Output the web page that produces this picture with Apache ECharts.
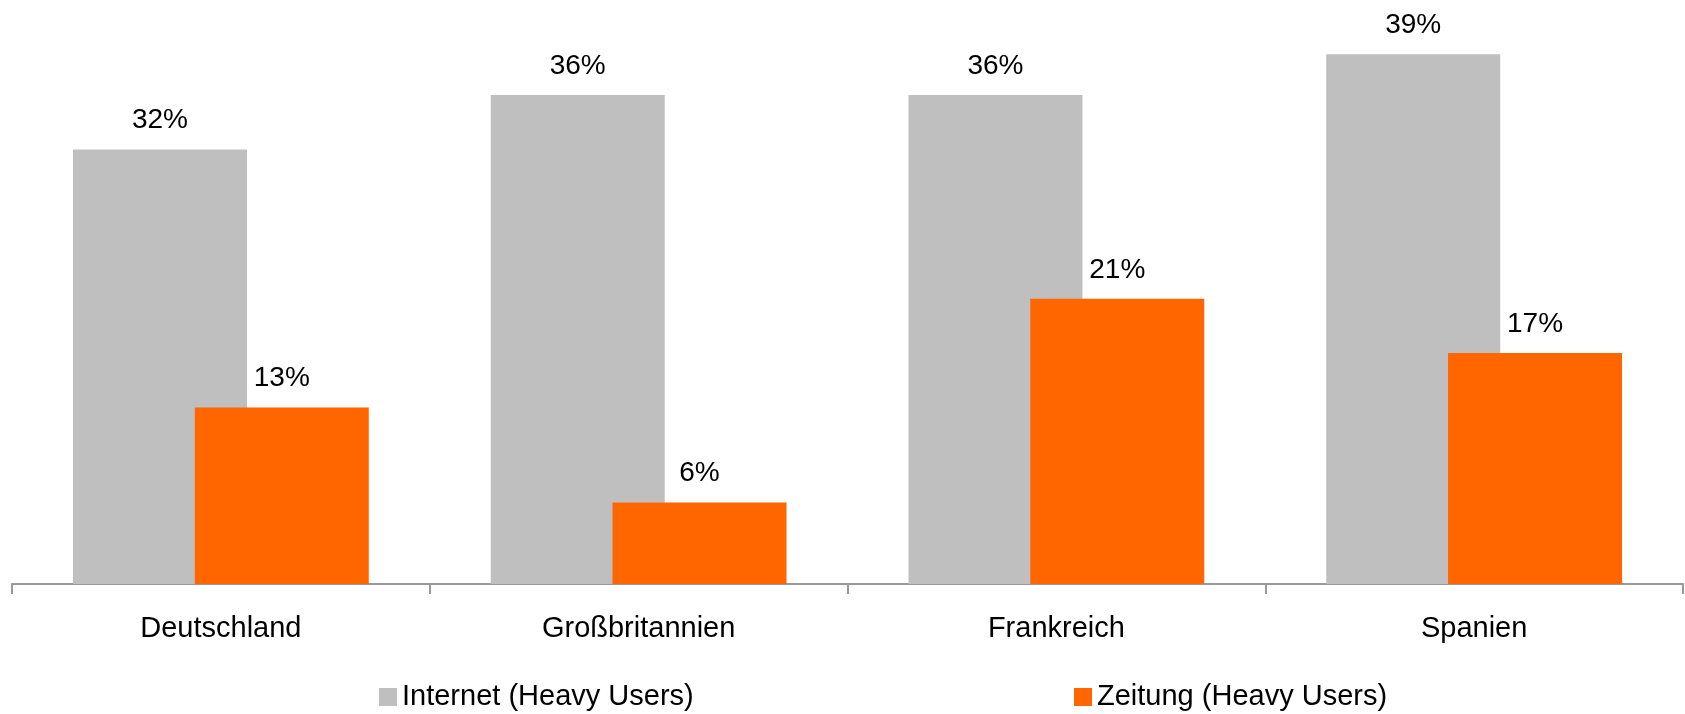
<!DOCTYPE html>
<html>
<head>
<meta charset="utf-8">
<script src="https://cdn.jsdelivr.net/npm/echarts@6/dist/echarts.min.js"></script>
<style>html,body{margin:0;padding:0;background:#fff}#c{width:1685px;height:714px}</style>
</head>
<body>
<div id="c"></div>
<script>
const categories = ['Deutschland', 'Großbritannien', 'Frankreich', 'Spanien'];
const internetValues = [32, 36, 36, 39];
const zeitungValues = [13, 6, 21, 17];
const seriesNames = ['Internet (Heavy Users)', 'Zeitung (Heavy Users)'];

const FONT = 'Liberation Sans';
const chart = echarts.init(document.getElementById('c'));
const labelCfg = {
  show: true, position: 'top', distance: 15,
  formatter: p => p.value + '%',
  fontFamily: FONT, fontSize: 28, color: '#000'
};
const legendText = { fontFamily: FONT, fontSize: 29, color: '#000', lineHeight: 30 };
chart.setOption({
  animation: false,
  textStyle: { fontFamily: FONT },
  legend: [
    { data: [seriesNames[0]], left: 379, top: 682, padding: 0, itemWidth: 18, itemHeight: 18, itemGap: 0,
      icon: 'rect', textStyle: legendText },
    { data: [seriesNames[1]], left: 1074, top: 682, padding: 0, itemWidth: 18, itemHeight: 18, itemGap: 0,
      icon: 'rect', textStyle: legendText }
  ],
  grid: { left: 12, right: 2, top: 0, bottom: 130, containLabel: false },
  xAxis: {
    type: 'category', data: categories,
    axisLine: { show: true, lineStyle: { color: '#999', width: 2 } },
    axisTick: { show: true, length: 10, lineStyle: { color: '#999', width: 2 } },
    axisLabel: { fontFamily: FONT, fontSize: 29, color: '#000', margin: 30 }
  },
  yAxis: {
    type: 'value', min: 0, max: 43, show: false, splitLine: { show: false }
  },
  series: [
    { name: seriesNames[0], type: 'bar', data: internetValues, barWidth: 174, barGap: '-30%',
      itemStyle: { color: '#BFBFBF' }, label: labelCfg },
    { name: seriesNames[1], type: 'bar', data: zeitungValues, barWidth: 174, barGap: '-30%',
      itemStyle: { color: '#FF6600' }, label: labelCfg }
  ]
});
</script>
</body>
</html>
